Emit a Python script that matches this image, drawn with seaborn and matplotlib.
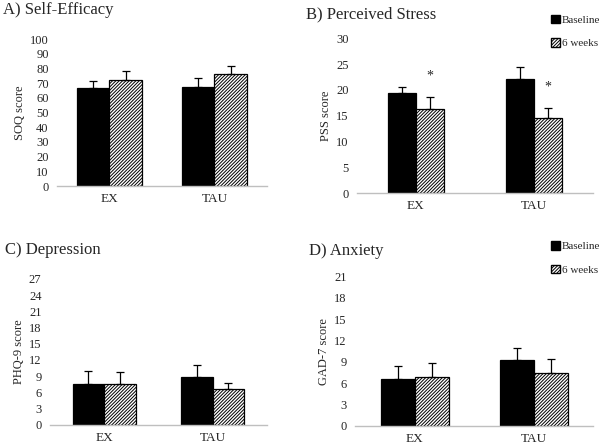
import numpy as np
import pandas as pd
import matplotlib
matplotlib.use('Agg')
import matplotlib.pyplot as plt
import matplotlib.patches as mpatches
import seaborn as sns

# ------------------------------------------------------------
# DATA (means and upper error)
# ------------------------------------------------------------
groups = ['EX', 'TAU']
times = ['Baseline', '6 weeks']

soq_base = [66.6, 67.3]
soq_6wk = [72.3, 76.4]
soq_base_err = [5.2, 6.3]
soq_6wk_err = [6.1, 5.0]

pss_base = [19.4, 22.1]
pss_6wk = [16.3, 14.5]
pss_base_err = [1.1, 2.4]
pss_6wk_err = [2.3, 2.0]
pss_sig = [False, True, False, True]   # EX base, EX 6wk, TAU base, TAU 6wk

phq_base = [7.5, 8.9]
phq_6wk = [7.5, 6.7]
phq_base_err = [2.5, 2.1]
phq_6wk_err = [2.3, 1.1]

gad_base = [6.6, 9.3]
gad_6wk = [6.8, 7.4]
gad_base_err = [1.8, 1.7]
gad_6wk_err = [2.1, 2.0]

sns.set_theme(style="white")
plt.rcParams['font.family'] = ['Liberation Serif', 'DejaVu Serif']
plt.rcParams['hatch.linewidth'] = 0.7

HATCH = '//////////'

fig = plt.figure(figsize=(6, 4.44), dpi=100)


def panel(rect, base, wk, base_err, wk_err, ylim, yticks, ylabel, bar_w, sig=None):
    ax = fig.add_axes(rect)
    df = pd.DataFrame({
        'group': groups * 2,
        'time': [times[0]] * 2 + [times[1]] * 2,
        'score': base + wk,
    })
    sns.barplot(data=df, x='group', y='score', hue='time', order=groups,
                hue_order=times, palette=['black', 'white'], edgecolor='black',
                linewidth=0.9, errorbar=None, width=bar_w, ax=ax, legend=False)
    bar_conts = list(ax.containers)
    for bar in bar_conts[1]:
        bar.set_hatch(HATCH)
    errs = [base_err, wk_err]
    for k, cont in enumerate(bar_conts):
        xs = [b.get_x() + b.get_width() / 2 for b in cont]
        hs = [b.get_height() for b in cont]
        ax.errorbar(xs, hs, yerr=[np.zeros(len(hs)), errs[k]], fmt='none',
                    ecolor='black', elinewidth=0.9, capsize=3, capthick=0.9)
        if sig is not None:
            for j in range(len(xs)):
                if sig[j * 2 + k]:
                    ax.text(xs[j], hs[j] + errs[k][j] + 4.0, '*',
                            ha='center', va='center', fontsize=10)
    ax.set_ylim(*ylim)
    ax.set_yticks(yticks)
    ax.set_xlim(-0.5, 1.5)
    ax.set_xlabel('')
    ax.set_ylabel(ylabel, fontsize=9, labelpad=3)
    ax.tick_params(axis='y', length=0, labelsize=9, pad=6)
    ax.tick_params(axis='x', length=0, labelsize=9.5, pad=5)
    for s in ['top', 'right', 'left']:
        ax.spines[s].set_visible(False)
    ax.spines['bottom'].set_color('#bfbfbf')
    ax.spines['bottom'].set_linewidth(1)
    return ax


axA = panel([0.095, 0.581, 0.35, 0.331], soq_base, soq_6wk, soq_base_err, soq_6wk_err,
            (0, 100), range(0, 101, 10), 'SOQ score', 0.62)
axB = panel([0.595, 0.565, 0.393, 0.349], pss_base, pss_6wk, pss_base_err, pss_6wk_err,
            (0, 30), range(0, 31, 5), 'PSS score', 0.48, sig=pss_sig)
axC = panel([0.083, 0.043, 0.362, 0.329], phq_base, phq_6wk, phq_base_err, phq_6wk_err,
            (0, 27), range(0, 28, 3), 'PHQ-9 score', 0.58)
axD = panel([0.592, 0.041, 0.397, 0.336], gad_base, gad_6wk, gad_base_err, gad_6wk_err,
            (0, 21), range(0, 22, 3), 'GAD-7 score', 0.57)

# titles
fig.text(0.005, 0.995, 'A) Self-Efficacy', fontsize=12, va='top', ha='left')
fig.text(0.51, 0.985, 'B) Perceived Stress', fontsize=12, va='top', ha='left')
fig.text(0.008, 0.455, 'C) Depression', fontsize=12, va='top', ha='left')
fig.text(0.515, 0.452, 'D) Anxiety', fontsize=12, va='top', ha='left')

# legends
handles = [mpatches.Patch(facecolor='black', edgecolor='black', label=times[0]),
           mpatches.Patch(facecolor='white', edgecolor='black', hatch=HATCH, label=times[1])]
for y in [0.972, 0.462]:
    fig.legend(handles=handles, loc='upper left', bbox_to_anchor=(0.915, y),
               frameon=False, fontsize=8, handlelength=0.8, handleheight=0.8,
               handletextpad=0.15, labelspacing=1.2, borderpad=0.2, borderaxespad=0)

plt.savefig('out.png', dpi=100)
